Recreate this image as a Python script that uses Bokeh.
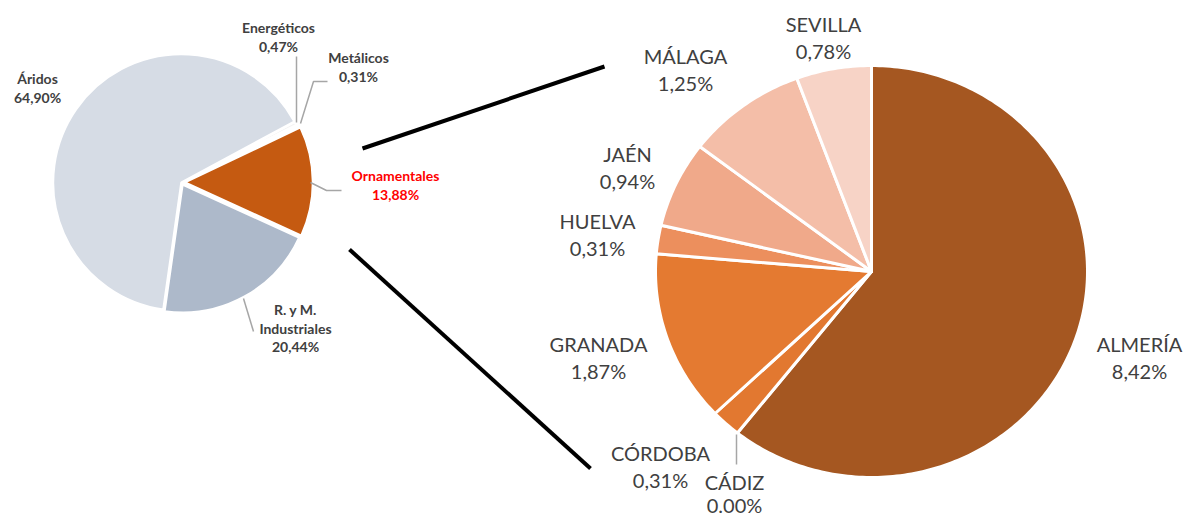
import math
from bokeh.plotting import figure
from bokeh.models import Range1d, ColumnDataSource
from bokeh.embed import file_html
from bokeh.resources import INLINE
from bokeh.core.properties import value

# ---------------- data ----------------
left_cats = ["Ornamentales", "Metálicos", "Energéticos", "Áridos", "R. y M. Industriales"]
left_vals = [13.88, 0.31, 0.47, 64.90, 20.44]
left_colors = ["#C55A11", "#F4F4F4", "#F4F4F4", "#D6DCE5", "#ADB9CA"]
left_pct = ["13,88%", "0,31%", "0,47%", "64,90%", "20,44%"]

right_cats = ["ALMERÍA", "CÁDIZ", "CÓRDOBA", "GRANADA", "HUELVA", "JAÉN", "MÁLAGA", "SEVILLA"]
right_vals = [8.42, 0.00, 0.31, 1.87, 0.31, 0.94, 1.25, 0.78]
right_pct = ["8,42%", "0.00%", "0,31%", "1,87%", "0,31%", "0,94%", "1,25%", "0,78%"]
right_colors = ["#A55721", "#E47A31", "#E27830", "#E47A31", "#EC8F5D", "#F0A98A", "#F4BEA8", "#F7D3C6"]

# ---------------- layout ----------------
W, H = 1185, 517


def Y(y):
    return H - y


p = figure(width=W, height=H, output_backend="svg", toolbar_location=None,
           x_range=Range1d(0, W), y_range=Range1d(0, H),
           min_border=0)
p.axis.visible = False
p.grid.visible = False
p.outline_line_color = None
p.background_fill_color = "white"

# ---- left pie ----
lcx, lcy, lr = 181, 182, 128.5
start0 = -24.5
tot = sum(left_vals)
cum = 0.0
ls = dict(x=[], y=[], s=[], e=[], c=[])
for v, col in zip(left_vals, left_colors):
    a0 = start0 + cum / tot * 360
    a1 = start0 + (cum + v) / tot * 360
    cum += v
    mid = math.radians((a0 + a1) / 2)
    off = 3 if col == "#C55A11" else (2 if col == "#ADB9CA" else 0)
    ls["x"].append(lcx + off * math.cos(mid))
    ls["y"].append(Y(lcy) + off * math.sin(mid))
    ls["s"].append(math.radians(a0))
    ls["e"].append(math.radians(a1))
    ls["c"].append(col)
p.wedge(x="x", y="y", radius=lr, start_angle="s", end_angle="e",
        fill_color="c", line_color="white", line_width=2.5, source=ColumnDataSource(ls))

# ---- right pie (slightly elliptical, as in the reference) ----
rcx, rcy, rrx, rry = 871, 271, 216, 206
tot_r = sum(right_vals)
cum = 0.0
rs = dict(xs=[], ys=[], c=[])
for v, col in zip(right_vals, right_colors):
    c0, c1 = cum, cum + v
    cum += v
    if v <= 0:
        continue
    a_start = 90 - c0 / tot_r * 360
    a_end = 90 - c1 / tot_r * 360
    n = max(4, int(abs(a_start - a_end) / 1.0))
    xs = [rcx]
    ys = [Y(rcy)]
    for k in range(n + 1):
        a = math.radians(a_start + (a_end - a_start) * k / n)
        xs.append(rcx + rrx * math.cos(a))
        ys.append(Y(rcy) + rry * math.sin(a))
    rs["xs"].append(xs)
    rs["ys"].append(ys)
    rs["c"].append(col)
p.patches(xs="xs", ys="ys", fill_color="c", line_color="white", line_width=3,
          line_join="round", source=ColumnDataSource(rs))

# ---- connector lines ----
p.line([362, 604], [Y(148), Y(66)], line_color="black", line_width=4)
p.line([349, 590], [Y(249), Y(468)], line_color="black", line_width=4)

# ---- leader lines ----
grey = "#A6A6A6"
p.line([296, 296], [Y(56), Y(122)], line_color=grey, line_width=1.5)
p.line([327, 313, 300], [Y(81), Y(81), Y(123)], line_color=grey, line_width=1.5)
p.line([310, 326, 341], [Y(182), Y(190), Y(190)], line_color=grey, line_width=1.5)
p.line([243, 253], [Y(298), Y(331)], line_color=grey, line_width=1.5)
p.line([736, 736], [Y(434), Y(464)], line_color=grey, line_width=1.5)

# ---- left labels ----
left_pos = {
    "Ornamentales": (395, 175),
    "Metálicos": (358, 57),
    "Energéticos": (278, 27),
    "Áridos": (37, 78),
    "R. y M. Industriales": (295, 309),
}
lt = dict(x=[], y=[], t=[], c=[])
for cat, pct in zip(left_cats, left_pct):
    x0, y0 = left_pos[cat]
    lines = ["R. y M.", "Industriales"] if cat.startswith("R. y M.") else [cat]
    lines = lines + [pct]
    col = "#FF0000" if cat == "Ornamentales" else "#404040"
    for i, t in enumerate(lines):
        lt["x"].append(x0)
        lt["y"].append(Y(y0 + i * 18.5))
        lt["t"].append(t)
        lt["c"].append(col)
p.text(x="x", y="y", text="t", text_color="c", source=ColumnDataSource(lt),
       text_font=value("Lato"), text_font_style="bold", text_font_size="14px",
       text_align="center", text_baseline="middle")

# ---- right labels ----
right_pos = {
    "ALMERÍA": (1139, 343, 27.5),
    "CÁDIZ": (734, 481, 23),
    "CÓRDOBA": (660, 452, 27.5),
    "GRANADA": (598, 343, 27.5),
    "HUELVA": (597, 220, 27.5),
    "JAÉN": (627, 153, 27.5),
    "MÁLAGA": (685, 55, 27.5),
    "SEVILLA": (823, 23, 27.5),
}
rt = dict(x=[], y=[], t=[])
for cat, pct in zip(right_cats, right_pct):
    x0, y0, dy = right_pos[cat]
    for i, t in enumerate([cat, pct]):
        rt["x"].append(x0)
        rt["y"].append(Y(y0 + i * dy))
        rt["t"].append(t)
p.text(x="x", y="y", text="t", text_color="#404040", source=ColumnDataSource(rt),
       text_font=value("Lato"), text_font_size="20px",
       text_align="center", text_baseline="middle")

open("out.html", "w").write(file_html(p, INLINE))
